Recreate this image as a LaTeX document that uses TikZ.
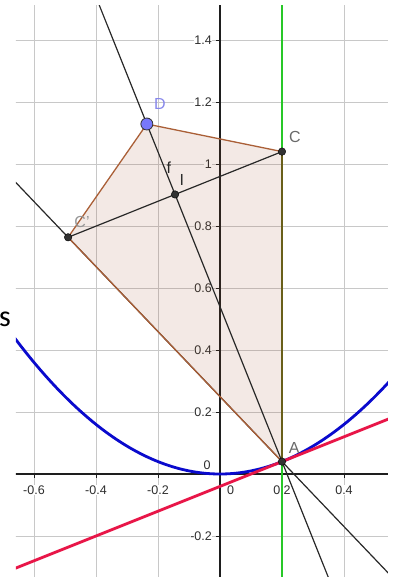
\documentclass[tikz,border=0pt]{standalone}
\usepackage{fontspec}
\setmainfont{Liberation Sans}
\newfontfamily\calibfont{Carlito}
\usetikzlibrary{calc}
\definecolor{gridgray}{RGB}{200,200,200}
\definecolor{axisc}{RGB}{30,30,30}
\definecolor{labc}{RGB}{45,45,45}
\definecolor{parab}{RGB}{10,10,205}
\definecolor{tang}{RGB}{232,22,72}
\definecolor{vlinec}{RGB}{40,200,40}
\definecolor{acseg}{RGB}{105,95,25}
\definecolor{polyc}{RGB}{170,95,55}
\definecolor{polyfill}{RGB}{153,76,38}
\definecolor{ptc}{RGB}{50,50,50}
\definecolor{dblue}{RGB}{120,120,250}
\definecolor{dlab}{RGB}{135,135,235}
\definecolor{clab}{RGB}{105,105,105}
\definecolor{blk}{RGB}{40,40,40}
\begin{document}
\begin{tikzpicture}[x=310pt,y=310pt,
  gridline/.style={draw=gridgray,line width=0.8pt},
  ticklab/.style={font=\fontsize{12.5}{12.5}\selectfont,text=labc,fill=white,inner sep=0.6pt},
  axisline/.style={draw=axisc,line width=1.1pt},
  blackline/.style={draw=blk,line width=1.2pt},
  thickcurve/.style={line width=2.8pt},
  polyedge/.style={draw=polyc,line width=1.3pt},
  ptdot/.style={circle,fill=ptc,draw=black,line width=0.4pt,inner sep=0pt,minimum size=7.5pt},
  freedot/.style={circle,fill=dblue,draw=ptc,line width=0.8pt,inner sep=0pt,minimum size=12pt},
  ptlabel/.style={font=\fontsize{16}{16}\selectfont,inner sep=0pt}
]
\useasboundingbox (-0.70968,-0.33226) rectangle (0.57419,1.52903);
% stray text
\node[anchor=base west,inner sep=0pt,font=\calibfont\fontsize{30}{30}\selectfont] (s) at (-0.7130,0.4774) {s};
\begin{scope}
\clip (-0.6581,-0.33226) rectangle (0.5419,1.5097);
% grid
\foreach \gx in {-0.6,-0.4,-0.2,0.2,0.4} \draw[gridline] (\gx,-0.4) -- (\gx,1.6);
\foreach \gy in {-0.2,0.2,0.4,0.6,0.8,1.0,1.2,1.4} \draw[gridline] (-0.7,\gy) -- (0.6,\gy);
% tick labels
\foreach \gy/\t in {-0.2/-0.2,0.2/0.2,0.4/0.4,0.6/0.6,0.8/0.8,1.0/1,1.2/1.2,1.4/1.4}
  \node[ticklab,anchor=east] (yl\t) at (-0.0238,\gy) {\t};
\node[ticklab] (yl0) at (-0.042,0.029) {0};
\foreach \gx/\t in {-0.6/-0.6,-0.4/-0.4,-0.2/-0.2,0.2/0.2,0.4/0.4}
  \node[ticklab] (xl\t) at (\gx,-0.052) {\t};
\node[ticklab] (xl0) at (0.034,-0.052) {0};
% axes
\draw[axisline] (-0.7,0) -- (0.6,0);
\draw[axisline] (0,-0.4) -- (0,1.6);
\foreach \gx in {-0.6,-0.4,-0.2,0.2,0.4} \draw[axisline,line width=0.8pt] (\gx,0) -- (\gx,-0.013);
\foreach \gy in {-0.2,0.2,0.4,0.6,0.8,1.0,1.2,1.4} \draw[axisline,line width=0.8pt] (0,\gy) -- (-0.013,\gy);
% points
\coordinate (A) at (0.2,0.04);
\coordinate (C) at (0.2,1.04);
\coordinate (D) at (-0.236,1.129);
\coordinate (I) at ($(A)!(C)!(D)$);
\coordinate (Cp) at ($(C)!2!(I)$);
% polygon fill
\fill[polyfill,fill opacity=0.12] (A) -- (C) -- (D) -- (Cp) -- cycle;
% parabola and tangent
\draw[parab,thickcurve] plot[domain=-0.70:0.58,samples=120] (\x,{\x*\x});
\draw[tang,thickcurve] (-0.70,-0.32) -- (0.58,0.192);
% vertical line x=0.2
\draw[vlinec,thickcurve] (0.2,-0.4) -- (0.2,1.6);
\draw[acseg,thickcurve] (A) -- (C);
% black lines
\draw[blackline] ($(A)!-1!(D)$) -- ($(A)!2!(D)$);
\draw[blackline] ($(A)!-1!(Cp)$) -- ($(A)!2!(Cp)$);
\draw[blackline] (Cp) -- (C);
% polygon edges
\draw[polyedge] (C) -- (D) -- (Cp) -- (A);
% point markers
\node[ptdot] (nA) at (A) {};
\node[ptdot] (nC) at (C) {};
\node[ptdot] (nI) at (I) {};
\node[ptdot] (nCp) at (Cp) {};
\node[freedot] (nD) at (D) {};
\end{scope}
% labels
\node[ptlabel,text=dlab] (lD) at (-0.1935,1.1935) {D};
\node[ptlabel,text=clab] (lC) at (0.242,1.087) {C};
\node[ptlabel,text=clab!70] (lCp) at (-0.445,0.813) {C'};
\node[ptlabel,text=labc] (lI) at (-0.123,0.948) {I};
\node[ptlabel,text=blk] (lf) at (-0.165,0.987) {f};
\node[ptlabel,text=clab] (lA) at (0.239,0.083) {A};
\end{tikzpicture}
\end{document}
